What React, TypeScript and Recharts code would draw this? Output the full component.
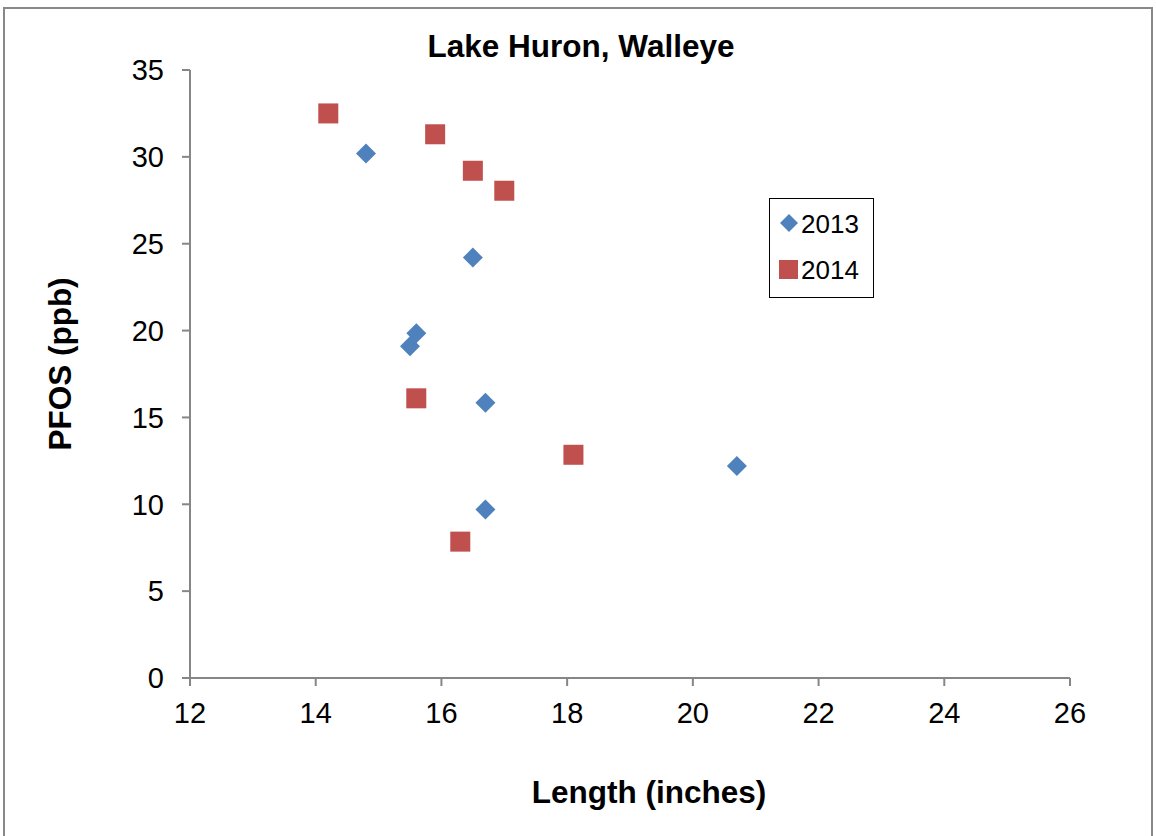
import React from "react";
import { Scatter, ScatterChart, XAxis, YAxis, Label } from "recharts";

const lengths2013 = [14.8, 16.5, 15.6, 15.5, 16.7, 20.7, 16.7];
const pfos2013 = [30.2, 24.2, 19.85, 19.1, 15.85, 12.2, 9.7];
const lengths2014 = [14.2, 15.9, 16.5, 17.0, 15.6, 18.1, 16.3];
const pfos2014 = [32.5, 31.3, 29.2, 28.05, 16.1, 12.85, 7.85];
const seriesNames = ["2013", "2014"];
const xTicks = [12, 14, 16, 18, 20, 22, 24, 26];
const yTicks = [0, 5, 10, 15, 20, 25, 30, 35];

const BLUE = "#4F81BD";
const RED = "#C0504D";
const AXIS = "#868686";
const FONT = "'Liberation Sans', Arial, sans-serif";

const data2013 = lengths2013.map((x, i) => ({ x, y: pfos2013[i] }));
const data2014 = lengths2014.map((x, i) => ({ x, y: pfos2014[i] }));

function Diamond(props: any) {
  const { cx, cy } = props;
  const r = 10;
  return (
    <path
      d={`M${cx},${cy - r}L${cx + r},${cy}L${cx},${cy + r}L${cx - r},${cy}Z`}
      fill={BLUE}
    />
  );
}

function Square(props: any) {
  const { cx, cy } = props;
  const r = 10;
  return <rect x={cx - r} y={cy - r} width={2 * r} height={2 * r} fill={RED} />;
}

function LegendBox() {
  const row = (shape: React.ReactNode, label: string) => (
    <div style={{ display: "flex", alignItems: "center", height: 46 }}>
      <svg width={22} height={22} style={{ marginRight: 1 }}>
        {shape}
      </svg>
      <span style={{ fontSize: 26, fontFamily: FONT, color: "#000" }}>{label}</span>
    </div>
  );
  return (
    <div
      style={{
        position: "absolute",
        left: 769,
        top: 198,
        border: "1.5px solid #000",
        width: 105,
        height: 100,
        boxSizing: "border-box",
        padding: "2px 0 0 8px",
        background: "#fff",
      }}
    >
      {row(<path d="M11,1L20,10L11,19L2,10Z" fill={BLUE} />, seriesNames[0])}
      {row(<rect x={1} y={1} width={19} height={19} fill={RED} />, seriesNames[1])}
    </div>
  );
}

const boldText = {
  fontFamily: FONT,
  fontWeight: "bold" as const,
  fontSize: 31.5,
  fill: "#000",
};

export default function App() {
  return (
    <div style={{ position: "absolute", left: 0, top: 0, width: 1156, height: 836, background: "#fff", overflow: "hidden" }}>
      <div
        style={{
          position: "absolute",
          left: 3,
          top: 7,
          width: 1150,
          height: 850,
          border: "2px solid #888",
          boxSizing: "border-box",
        }}
      />
      <div style={{ position: "absolute", left: 0, top: 0 }}>
        <ScatterChart
          width={1156}
          height={836}
          margin={{ top: 70, right: 86, bottom: 98, left: 120 }}
        >
          <XAxis
            type="number"
            dataKey="x"
            domain={[12, 26]}
            ticks={xTicks}
            interval={0}
            allowDataOverflow
            height={60}
            tickSize={8}
            tickMargin={16}
            stroke={AXIS}
            strokeWidth={2}
            tick={{ fill: "#000", fontSize: 29, fontFamily: FONT }}
          >
            <Label
              content={() => (
                <g>
                  <text x={581} y={57} textAnchor="middle" {...boldText}>
                    Lake Huron, Walleye
                  </text>
                  <text x={649} y={803} textAnchor="middle" {...boldText}>
                    Length (inches)
                  </text>
                </g>
              )}
            />
          </XAxis>
          <YAxis
            type="number"
            dataKey="y"
            domain={[0, 35]}
            ticks={yTicks}
            interval={0}
            allowDataOverflow
            width={70}
            tickSize={8}
            tickMargin={18}
            stroke={AXIS}
            strokeWidth={2}
            tick={{ fill: "#000", fontSize: 29, fontFamily: FONT }}
          >
            <Label
              content={() => (
                <text
                  x={71}
                  y={364}
                  transform="rotate(-90 71 364)"
                  textAnchor="middle"
                  {...boldText}
                >
                  PFOS (ppb)
                </text>
              )}
            />
          </YAxis>
          <Scatter name={seriesNames[0]} data={data2013} shape={Diamond} isAnimationActive={false} />
          <Scatter name={seriesNames[1]} data={data2014} shape={Square} isAnimationActive={false} />
        </ScatterChart>
      </div>
      <LegendBox />
    </div>
  );
}
